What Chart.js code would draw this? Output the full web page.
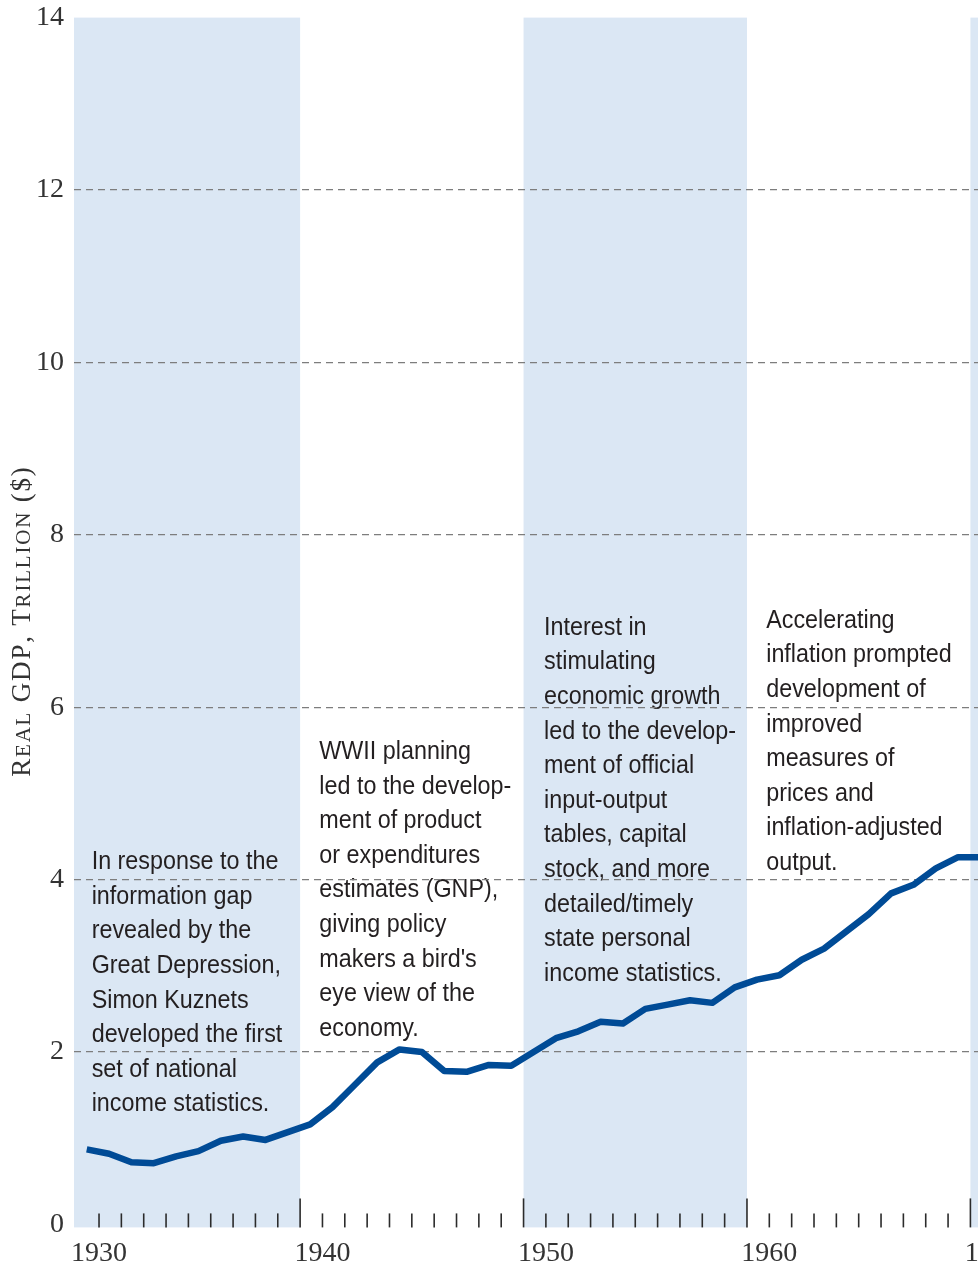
<!DOCTYPE html>
<html lang="en">
<head>
    <meta charset="UTF-8">
    <title>Real GDP and the development of the national accounts</title>
    <script src="https://cdn.jsdelivr.net/npm/chart.js"></script>
    <style>
        html, body {
            margin: 0;
            padding: 0;
            background: #fff;
            overflow: hidden;
        }
        #wrap {
            position: relative;
            width: 978px;
            height: 1263px;
            overflow: hidden;
        }
        canvas {
            position: absolute;
            left: 0;
            top: 0;
        }
    </style>
</head>
<body>
    <div id="wrap">
        <canvas id="gdpChart" width="1100" height="1263"></canvas>
    </div>

    <script>
        // Real GDP, trillions of chained dollars
        const years = [
            1930, 1931, 1932, 1933, 1934, 1935, 1936, 1937, 1938, 1939,
            1940, 1941, 1942, 1943, 1944, 1945, 1946, 1947, 1948, 1949,
            1950, 1951, 1952, 1953, 1954, 1955, 1956, 1957, 1958, 1959,
            1960, 1961, 1962, 1963, 1964, 1965, 1966, 1967, 1968, 1969, 1970
        ];
        const gdp = [
            0.87, 0.82, 0.72, 0.71, 0.79, 0.85, 0.97, 1.02, 0.98, 1.07,
            1.16, 1.36, 1.62, 1.88, 2.03, 2.00, 1.78, 1.77, 1.85, 1.84,
            2.00, 2.16, 2.24, 2.35, 2.33, 2.50, 2.55, 2.60, 2.57, 2.75,
            2.84, 2.89, 3.07, 3.20, 3.40, 3.60, 3.84, 3.94, 4.13, 4.26, 4.26
        ];

        // shaded decades (null = from the start of the axis)
        const periods = [[null, 1939], [1949, 1959], [1969, 1979]];

        const tickYears = [];
        for (let yr = 1930; yr <= 1974; yr++) tickYears.push(yr);
        const decadeLabels = [1930, 1940, 1950, 1960, 1970];

        const noteTexts = [
            ['In response to the', 'information gap', 'revealed by the', 'Great Depression,',
             'Simon Kuznets', 'developed the first', 'set of national', 'income statistics.'],
            ['WWII planning', 'led to the develop-', 'ment of product', 'or expenditures',
             'estimates (GNP),', 'giving policy', "makers a bird's", 'eye view of the', 'economy.'],
            ['Interest in', 'stimulating', 'economic growth', 'led to the develop-',
             'ment of official', 'input-output', 'tables, capital', 'stock, and more',
             'detailed/timely', 'state personal', 'income statistics.'],
            ['Accelerating', 'inflation prompted', 'development of', 'improved',
             'measures of', 'prices and', 'inflation-adjusted', 'output.']
        ];
        // where each note starts: x in years, y in trillions (first baseline)
        const noteAnchors = [[1929.67, 4.12], [1939.86, 5.40], [1949.92, 6.84], [1959.86, 6.92]];

        const yTitle = 'Real GDP, Trillion ($)';

        // the points sit a little to the left of their year tick in the source
        const POINT_SHIFT = -0.55;

        const decor = {
            id: 'decor',
            beforeDraw(chart) {
                const { ctx, chartArea: a, scales: { x, y } } = chart;
                ctx.save();
                ctx.fillStyle = '#dbe7f4';
                periods.forEach(([from, to]) => {
                    const l = from === null ? a.left : x.getPixelForValue(from);
                    const r = x.getPixelForValue(to);
                    ctx.fillRect(l, a.top, r - l, a.bottom + 3 - a.top);
                });

                ctx.fillStyle = '#231f20';
                ctx.font = '25.5px "Liberation Sans", Arial, sans-serif';
                ctx.textBaseline = 'alphabetic';
                noteTexts.forEach((lines, n) => {
                    const left = x.getPixelForValue(noteAnchors[n][0]);
                    const top = y.getPixelForValue(noteAnchors[n][1]);
                    lines.forEach((t, i) => {
                        ctx.save();
                        ctx.translate(left, top + i * 34.6);
                        ctx.scale(0.915, 1);
                        ctx.fillText(t, 0, 0);
                        ctx.restore();
                    });
                });
                ctx.restore();
            },
            afterDraw(chart) {
                const { ctx, chartArea: a, scales: { x } } = chart;
                ctx.save();
                // year ticks, longer at the decade boundaries
                ctx.strokeStyle = '#2b2b2b';
                ctx.lineWidth = 1.6;
                x.ticks.forEach(t => {
                    const px = x.getPixelForValue(t.value);
                    const len = (t.value + 1) % 10 === 0 ? 29 : 14;
                    ctx.beginPath();
                    ctx.moveTo(px, a.bottom + 3);
                    ctx.lineTo(px, a.bottom + 3 - len);
                    ctx.stroke();
                });

                // y title in small caps
                ctx.translate(30, 622);
                ctx.rotate(-Math.PI / 2);
                ctx.fillStyle = '#333';
                ctx.textBaseline = 'alphabetic';
                const big = 27, small = 21, spacing = 1.8;
                const parts = [];
                let w = 0;
                for (const ch of yTitle) {
                    const lower = ch !== ch.toUpperCase();
                    const size = lower ? small : big;
                    ctx.font = size + 'px "Liberation Serif", serif';
                    const c = ch.toUpperCase();
                    const cw = ctx.measureText(c).width;
                    parts.push({ c, size, cw });
                    w += cw + spacing;
                }
                w -= spacing;
                let pos = -w / 2;
                parts.forEach(p => {
                    ctx.font = p.size + 'px "Liberation Serif", serif';
                    ctx.fillText(p.c, pos, 0);
                    pos += p.cw + spacing;
                });
                ctx.restore();
            }
        };

        const serif = { family: '"Liberation Serif", "Times New Roman", serif', size: 28 };

        new Chart(document.getElementById('gdpChart'), {
            type: 'line',
            data: {
                datasets: [{
                    data: years.map((yr, i) => ({ x: yr + POINT_SHIFT, y: gdp[i] })),
                    borderColor: '#004b96',
                    borderWidth: 6.5,
                    pointRadius: 0,
                    tension: 0,
                    fill: false,
                    borderJoinStyle: 'round'
                }]
            },
            options: {
                responsive: false,
                animation: false,
                devicePixelRatio: 1,
                layout: { padding: { top: 17.6, right: 0, bottom: 0, left: 0 } },
                plugins: {
                    legend: { display: false },
                    tooltip: { enabled: false }
                },
                scales: {
                    x: {
                        type: 'linear',
                        min: 1928.88,
                        max: 1974.8,
                        afterBuildTicks: s => { s.ticks = tickYears.map(v => ({ value: v })); },
                        afterFit: s => {
                            s.height = 38.6;
                            s.paddingLeft = 0;
                            s.paddingRight = 0;
                        },
                        ticks: {
                            autoSkip: false,
                            maxRotation: 0,
                            padding: 4,
                            color: '#333',
                            font: serif,
                            callback: v => decadeLabels.includes(v) ? String(v) : ''
                        },
                        grid: { display: false },
                        border: { display: false }
                    },
                    y: {
                        min: 0,
                        max: 14,
                        afterFit: s => {
                            s.width = 74;
                            s.paddingTop = 0;
                            s.paddingBottom = 0;
                        },
                        ticks: { stepSize: 2, padding: 10, color: '#333', font: serif },
                        grid: {
                            color: c => (c.tick.value > 0 && c.tick.value < 14) ? '#7d7d7d' : 'rgba(0,0,0,0)',
                            lineWidth: 1.2,
                            drawTicks: false
                        },
                        border: { display: false, dash: [7, 5] }
                    }
                }
            },
            plugins: [decor]
        });
    </script>
</body>
</html>
